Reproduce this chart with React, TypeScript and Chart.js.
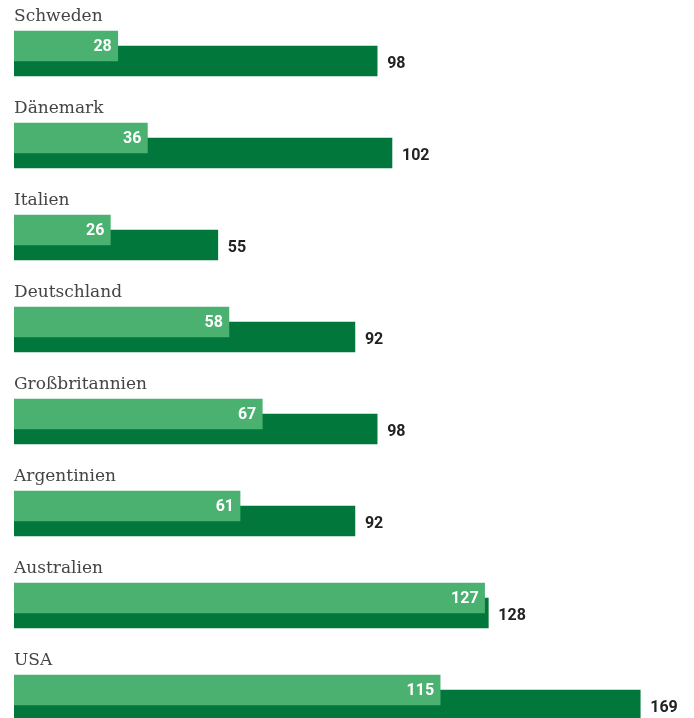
import React, { useEffect, useRef } from "react";
import { Chart, registerables } from "chart.js";

Chart.register(...registerables);

const categories = ["Schweden", "Dänemark", "Italien", "Deutschland", "Großbritannien", "Argentinien", "Australien", "USA"];
const lightValues = [28, 36, 26, 58, 67, 61, 127, 115];
const darkValues = [98, 102, 55, 92, 98, 92, 128, 169];

const LIGHT = "#4bb170";
const DARK = "#02773b";
const W = 694;
const H = 718;
const ROW = 92; // px per category
const DARK_SHIFT = 15 / ROW; // dark bar sits 15px lower

const labelPlugin = {
  id: "labels",
  afterDatasetsDraw(chart: any) {
    const ctx = chart.ctx;
    const light = chart.getDatasetMeta(0).data;
    const dark = chart.getDatasetMeta(1).data;
    ctx.save();
    categories.forEach((name, i) => {
      const lb = light[i];
      const db = dark[i];
      if (!lb || !db) return;
      ctx.font = "17px 'DejaVu Serif'";
      ctx.fillStyle = "#444";
      ctx.textAlign = "left";
      ctx.textBaseline = "middle";
      ctx.fillText(name, chart.chartArea.left, lb.y - 29);
      ctx.font = "bold 16px Roboto";
      ctx.fillStyle = "#ffffff";
      ctx.textAlign = "right";
      ctx.fillText(String(lightValues[i]), lb.x - 6, lb.y + 1);
      ctx.font = "bold 16px Roboto";
      ctx.fillStyle = "#222";
      ctx.textAlign = "left";
      ctx.fillText(String(darkValues[i]), db.x + 10, db.y + 3);
    });
    ctx.restore();
  },
};

export default function App() {
  const ref = useRef<HTMLCanvasElement | null>(null);
  useEffect(() => {
    if (!ref.current) return;
    const chart = new Chart(ref.current, {
      type: "bar",
      data: {
        datasets: [
          {
            label: "hell",
            data: lightValues.map((v, i) => ({ x: v, y: i })),
            backgroundColor: LIGHT,
            barThickness: 30,
            grouped: false,
            order: 0,
          } as any,
          {
            label: "dunkel",
            data: darkValues.map((v, i) => ({ x: v, y: i + DARK_SHIFT })),
            backgroundColor: DARK,
            barThickness: 30,
            grouped: false,
            order: 1,
          } as any,
        ],
      },
      options: {
        indexAxis: "y",
        animation: false,
        responsive: false,
        maintainAspectRatio: false,
        layout: { padding: { left: 14, right: 13, top: 0, bottom: 0 } },
        plugins: { legend: { display: false }, tooltip: { enabled: false } },
        scales: {
          x: { type: "linear", display: false, offset: false, min: 0, max: 180, grid: { display: false } },
          y: { type: "linear", display: false, offset: false, reverse: true, min: -0.5, max: -0.5 + H / ROW, grid: { display: false } },
        },
      },
      plugins: [labelPlugin],
    });
    return () => chart.destroy();
  }, []);
  return (
    <div style={{ position: "fixed", left: 0, top: 0, width: W, height: H, background: "#fff" }}>
      <canvas ref={ref} width={W} height={H} style={{ display: "block", width: W, height: H }} />
    </div>
  );
}
